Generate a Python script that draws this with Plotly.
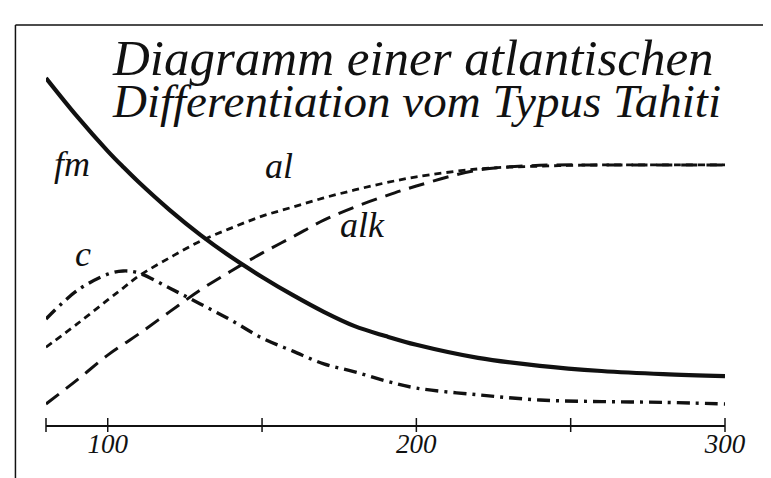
import plotly.graph_objects as go

# x values (Niggli si) and curve values
si = [80, 90, 100, 105, 110, 120, 130, 140, 150, 160, 170, 180, 190, 200, 220, 240, 260, 280, 300]
fm = [87.4, 77.8, 69.0, 65.0, 61.2, 54.2, 47.9, 42.3, 37.3, 32.7, 28.5, 24.9, 22.4, 20.2, 16.9, 14.9, 13.6, 12.8, 12.3]
al = [19.6, 25.4, 31.5, 34.5, 37.5, 42.1, 46.3, 49.6, 52.6, 54.9, 57.2, 59.2, 61.0, 62.5, 64.5, 65.2, 65.5, 65.5, 65.5]
alk = [5.3, 11.3, 17.6, 20.3, 22.9, 28.5, 34.0, 38.8, 43.3, 47.4, 51.6, 54.9, 57.7, 60.2, 64.2, 65.4, 65.5, 65.5, 65.5]
c = [26.7, 33.8, 38.0, 38.8, 38.3, 34.5, 30.5, 26.4, 21.9, 18.6, 15.4, 13.4, 11.1, 9.3, 7.6, 6.3, 5.9, 5.7, 5.3]

tick_vals = [80, 100, 150, 200, 250, 300]
tick_text = ["", "100", "", "200", "", "300"]

title_1 = "Diagramm einer atlantischen"
title_2 = "Differentiation vom Typus Tahiti"

INK = "#111111"
FONT = "Liberation Serif"

fig = go.Figure()
fig.add_trace(go.Scatter(x=si, y=fm, mode="lines", line=dict(color=INK, width=4.2, shape="spline", smoothing=1.0), name="fm"))
fig.add_trace(go.Scatter(x=si, y=al, mode="lines", line=dict(color=INK, width=2.8, dash="7px,5px", shape="spline", smoothing=1.0), name="al"))
fig.add_trace(go.Scatter(x=si, y=alk, mode="lines", line=dict(color=INK, width=3.0, dash="16px,9px", shape="spline", smoothing=1.0), name="alk"))
fig.add_trace(go.Scatter(x=si, y=c, mode="lines", line=dict(color=INK, width=3.4, dash="13px,6px,3px,6px", shape="spline", smoothing=1.0), name="c"))
# tick marks crossing the axis line
fig.add_trace(go.Scatter(x=tick_vals, y=[0] * len(tick_vals), mode="markers", cliponaxis=False,
                         marker=dict(symbol="line-ns", size=10, line=dict(color=INK, width=1.5)), hoverinfo="skip"))

labels = [("fm", 88.5, 65.8), ("al", 155.5, 65.3), ("alk", 182.5, 50.4), ("c", 92.0, 43.0)]
for txt, lx, ly in labels:
    fig.add_annotation(x=lx, y=ly, text=txt, showarrow=False, xanchor="center", yanchor="middle",
                       font=dict(family=FONT, size=36, color=INK, style="italic"))

fig.add_annotation(xref="paper", yref="paper", x=0.54, y=0.925, text=title_1, showarrow=False,
                   xanchor="center", yanchor="middle",
                   font=dict(family=FONT, size=51, color=INK, style="italic"))
fig.add_annotation(xref="paper", yref="paper", x=0.545, y=0.815, text=title_2, showarrow=False,
                   xanchor="center", yanchor="middle",
                   font=dict(family=FONT, size=47, color=INK, style="italic"))

# frame lines (top and left)
fig.add_shape(type="line", xref="paper", yref="paper", x0=-0.045, x1=1.08, y0=1.0076, y1=1.0076,
              line=dict(color=INK, width=1.5))
fig.add_shape(type="line", xref="paper", yref="paper", x0=-0.045, x1=-0.045, y0=1.0076, y1=-0.16,
              line=dict(color=INK, width=1.5))

fig.update_layout(
    width=771, height=478,
    margin=dict(l=38, r=54, t=20, b=61),
    paper_bgcolor="white", plot_bgcolor="white",
    showlegend=False,
    xaxis=dict(range=[80, 300], showgrid=False, zeroline=False, showline=True, linecolor=INK, linewidth=1.5,
               tickvals=tick_vals, ticktext=tick_text, ticks="", ticklabelstandoff=-6,
               tickfont=dict(family=FONT, size=27, color=INK, style="italic")),
    yaxis=dict(range=[0, 100], visible=False, showgrid=False, zeroline=False),
)
fig.write_html("out.html")
